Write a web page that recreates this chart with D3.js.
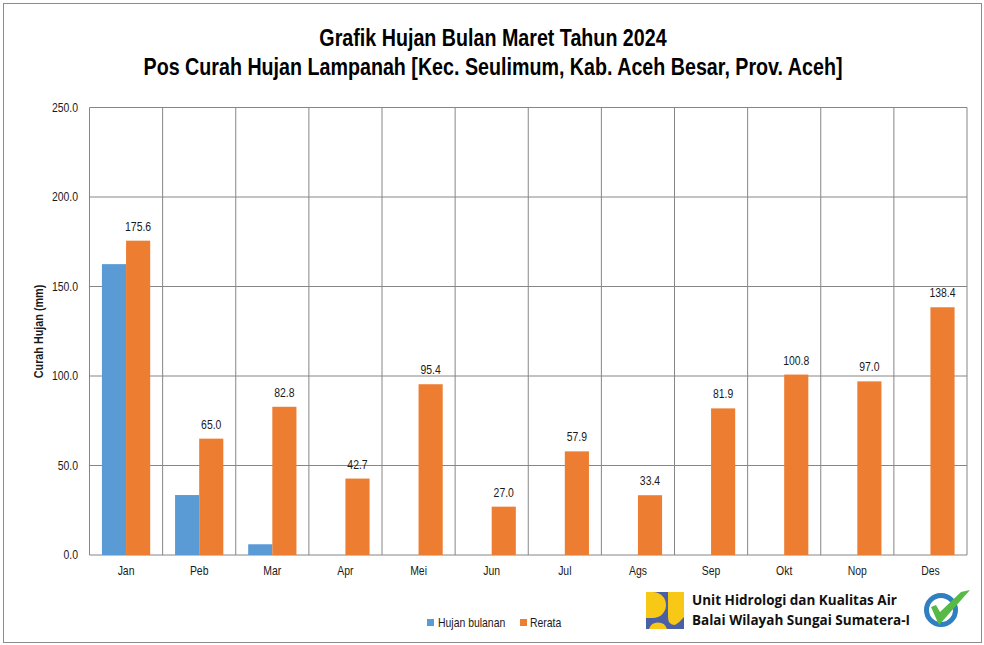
<!DOCTYPE html>
<html><head><meta charset="utf-8">
<script src="https://cdn.jsdelivr.net/npm/d3@7/dist/d3.min.js"></script>
<style>html,body{margin:0;padding:0;background:#fff}svg{display:block}
text{font-family:"Liberation Sans",Arial,sans-serif;fill:#1a1a1a}</style>
</head><body><div id="chart"></div>
<script>
const months=["Jan","Peb","Mar","Apr","Mei","Jun","Jul","Ags","Sep","Okt","Nop","Des"];
const hujanBulanan=[162.5,33.5,6.0,null,null,null,null,null,null,null,null,null];
const rerata=[175.6,65.0,82.8,42.7,95.4,27.0,57.9,33.4,81.9,100.8,97.0,138.4];
const yTicks=[0,50,100,150,200,250];
const titleLines=["Grafik Hujan Bulan Maret Tahun 2024","Pos Curah Hujan Lampanah [Kec. Seulimum, Kab. Aceh Besar, Prov. Aceh]"];
const legendItems=["Hujan bulanan","Rerata"];
const orgLines=["Unit Hidrologi dan Kualitas Air","Balai Wilayah Sungai Sumatera-I"];
const BLUE="#5b9bd5",ORANGE="#ed7d31",GRID="#868686";
const NARROW=0.87;

const W=984,H=645,L=89.5,R=967,T=107.5,B=555;
const svg=d3.select("#chart").append("svg").attr("width",W).attr("height",H);
svg.append("rect").attr("x",3.5).attr("y",3.5).attr("width",978).attr("height",639).attr("fill","#fff").attr("stroke","#8c8c8c").attr("stroke-width",1);
const place=(px,py,sx)=>(d,i)=>`translate(${px(d,i)},${py(d,i)}) scale(${sx},1)`;

const x=d3.scaleBand().domain(months).range([L,R]).paddingInner(0.34).paddingOuter(0.17);
const sub=d3.scaleBand().domain(["h","r"]).range([0,x.bandwidth()]);
const y=d3.scaleLinear().domain([0,250]).range([B,T]);

svg.append("g").selectAll("line").data(yTicks).join("line")
 .attr("x1",L).attr("x2",R).attr("y1",d=>y(d)).attr("y2",d=>y(d)).attr("stroke",GRID);
const step=x.step();
svg.append("g").selectAll("line").data(d3.range(months.length+1)).join("line")
 .attr("x1",i=>L+i*step).attr("x2",i=>L+i*step).attr("y1",T).attr("y2",B).attr("stroke",GRID);

svg.append("g").selectAll("rect").data(months.map((m,i)=>({m,v:hujanBulanan[i]})).filter(d=>d.v!=null)).join("rect")
 .attr("x",d=>x(d.m)+sub("h")).attr("width",sub.bandwidth()).attr("y",d=>y(d.v)).attr("height",d=>y(0)-y(d.v)).attr("fill",BLUE);
svg.append("g").selectAll("rect").data(months.map((m,i)=>({m,v:rerata[i]}))).join("rect")
 .attr("x",d=>x(d.m)+sub("r")).attr("width",sub.bandwidth()).attr("y",d=>y(d.v)).attr("height",d=>y(0)-y(d.v)).attr("fill",ORANGE);

svg.append("g").selectAll("text").data(months.map((m,i)=>({m,v:rerata[i]}))).join("text")
 .attr("transform",place(d=>x(d.m)+sub("r")+sub.bandwidth()/2,d=>y(d.v)-10,NARROW))
 .attr("text-anchor","middle").attr("font-size",12).text(d=>d.v.toFixed(1));

svg.append("g").selectAll("text").data(yTicks).join("text")
 .attr("transform",place(()=>78,d=>y(d)+4,NARROW))
 .attr("text-anchor","end").attr("font-size",12).text(d=>d.toFixed(1));
svg.append("g").selectAll("text").data(months).join("text")
 .attr("transform",place(d=>x(d)+x.bandwidth()/2,()=>575,NARROW))
 .attr("text-anchor","middle").attr("font-size",12).text(d=>d);
svg.append("text").attr("transform","translate(43,331.5) rotate(-90) scale(0.9,1)").attr("text-anchor","middle")
 .attr("font-size",12).attr("font-weight","bold").text("Curah Hujan (mm)");

svg.append("g").selectAll("text").data(titleLines).join("text")
 .attr("transform",place(()=>493,(d,i)=>46+i*29,0.82))
 .attr("text-anchor","middle").attr("font-size",24).attr("font-weight","bold").style("fill","#000").text(d=>d);

const lg=svg.append("g");
[[427,438],[520,530]].forEach((p,i)=>{
 lg.append("rect").attr("x",p[0]).attr("y",619).attr("width",7).attr("height",7).attr("fill",i?ORANGE:BLUE);
 lg.append("text").attr("transform",`translate(${p[1]},626.5) scale(${NARROW},1)`).attr("font-size",12).text(legendItems[i]);
});

const logo=svg.append("g").attr("transform","translate(646,592)");
logo.append("rect").attr("width",38).attr("height",37).attr("fill","#4a5fa5");
logo.append("path").attr("d","M0 0H7A13 13 0 0 1 7 26H0Z").attr("fill","#f7c815");
logo.append("path").attr("d","M22 0H38V25Q34 30 29 33Q22 33 22 25Z").attr("fill","#f7c815");
logo.append("path").attr("d","M3 37A9.5 9.5 0 0 1 21 37Z").attr("fill","#f7c815");
svg.append("g").selectAll("text").data(orgLines).join("text")
 .attr("x",692).attr("y",(d,i)=>605+i*20).attr("font-size",13.5).attr("font-weight","bold")
 .style("font-family","'Open Sans',sans-serif").style("fill","#111").text(d=>d);
const badge=svg.append("g").attr("transform","translate(941,610)");
badge.append("circle").attr("r",14.5).attr("fill","#fff").attr("stroke","#2f7fc1").attr("stroke-width",5);
badge.append("path").attr("d","M-10 -3L-5 -5L-1 2L20 -18L29 -20L-2 15Z").attr("fill","#58b947");
</script></body></html>
